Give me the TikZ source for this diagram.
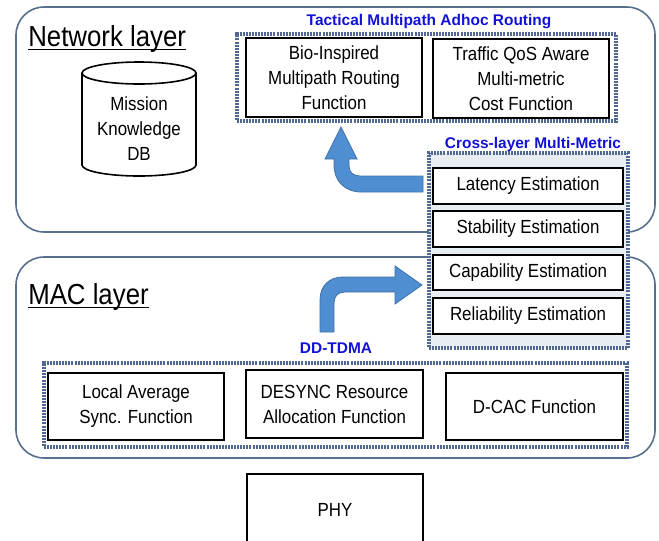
\documentclass[tikz,border=0pt]{standalone}
\usepackage{fontspec}
\setmainfont{Liberation Sans}[FakeStretch=0.89]
\newfontfamily\tagfont{Liberation Sans}
\definecolor{layerc}{RGB}{88,112,140}
\definecolor{framec}{RGB}{80,104,145}
\definecolor{framefill}{RGB}{232,236,243}
\definecolor{tagblue}{RGB}{18,18,215}
\definecolor{arrowc}{RGB}{80,142,210}
\definecolor{arrowedge}{RGB}{64,112,170}
\begin{document}
\begin{tikzpicture}[x=0.75pt,y=-0.75pt,
  layer/.style={draw=layerc,line width=1.2pt,rounded corners=21pt},
  frame/.style={draw=framec,line width=2.5pt,dash pattern=on 1.5pt off 0.8pt,inner sep=0pt},
  box/.style={draw=black,line width=1.5pt,fill=white,align=center,inner sep=0pt,
    font=\fontsize{14.25}{18.75}\selectfont},
  plain/.style={align=center,inner sep=0pt,font=\fontsize{14.25}{18.75}\selectfont},
  title/.style={anchor=base west,inner sep=0pt,font=\fontsize{21.75}{26}\selectfont},
  tag/.style={text=tagblue,inner sep=0pt,font=\tagfont\bfseries\fontsize{11.6}{14}\selectfont},
  blockarrow/.style={fill=arrowc,draw=arrowedge,line width=0.6pt}]
\useasboundingbox (0,0) rectangle (659,540);

% layer outlines
\draw[layer] (16,7) rectangle (655,232);
\draw[layer] (16,257) rectangle (655,458);

% layer titles with underline
\node[title] (nettitle) at (28,46) {Network layer};
\draw[line width=1.2pt] ([yshift=-2.6pt]nettitle.base west) -- ([yshift=-2.6pt]nettitle.base east);
\node[title] (mactitle) at (28,304) {MAC layer};
\draw[line width=1.2pt] ([yshift=-2.6pt]mactitle.base west) -- ([yshift=-2.6pt]mactitle.base east);

% mission knowledge database
\draw[line width=1.2pt,fill=white] (82,73) -- (82,165)
  arc[start angle=180,end angle=0,x radius=57,y radius=11] -- (196,73);
\draw[line width=1.2pt] (139,73) ellipse[x radius=57,y radius=11];
\node[plain] (db) at (139,129) {Mission\\Knowledge\\DB};

% routing group
\node[frame,minimum width=284.25pt,minimum height=65.25pt] (tmar) at (426.5,77.5) {};
\node[tag] (tmartag) at (429,22) {Tactical Multipath Adhoc Routing};
\node[box,minimum width=132pt,minimum height=59.25pt] (bio) at (334,77.5)
  {Bio-Inspired\\Multipath Routing\\Function};
\node[box,minimum width=132pt,minimum height=59.25pt] (qos) at (521,78.5)
  {Traffic QoS Aware\\Multi-metric\\Cost Function};

% cross-layer metric group
\node[frame,fill=framefill,minimum width=149.25pt,minimum height=146.25pt] (cross) at (528.5,250.5) {};
\node[tag] (crosstag) at (533,144) {Cross-layer Multi-Metric};
\node[box,minimum width=142.5pt,minimum height=27pt] (lat) at (528,186) {Latency Estimation};
\node[box,minimum width=142.5pt,minimum height=27pt] (stab) at (528,229) {Stability Estimation};
\node[box,minimum width=142.5pt,minimum height=26.25pt] (cap) at (528,272.5) {Capability Estimation};
\node[box,minimum width=142.5pt,minimum height=27pt] (rel) at (528,316) {Reliability Estimation};

% MAC group
\node[frame,minimum width=437.25pt,minimum height=63pt] (dd) at (335.5,405) {};
\node[tag] (ddtag) at (336,348) {DD-TDMA};
\node[box,minimum width=132pt,minimum height=50.25pt] (sync) at (136,406.5)
  {Local Average\\Sync. Function};
\node[box,minimum width=132.75pt,minimum height=51pt] (desync) at (334.5,404)
  {DESYNC Resource\\Allocation Function};
\node[box,minimum width=132.75pt,minimum height=50.25pt] (dcac) at (534.5,406.5) {D-CAC Function};

% physical layer
\node[box,minimum width=132pt,minimum height=54pt] (phy) at (335,510) {PHY};

% block arrow: metrics up to routing
\draw[blockarrow] (341,127) -- (357,159) -- (349,159) -- (349,166)
  .. controls (349,172) and (353,176) .. (360,176) -- (423,176) -- (423,192) -- (361,192)
  .. controls (345,192) and (334,181) .. (334,165) -- (334,159) -- (325,159) -- cycle;

% block arrow: MAC up to metrics
\draw[blockarrow] (320,332) -- (320,300)
  .. controls (320,285) and (330,277) .. (343,277) -- (395,277) -- (395,266) -- (422,285)
  -- (395,304) -- (395,292) -- (345,292)
  .. controls (338,292) and (334,296) .. (334,303) -- (334,332) -- cycle;
\end{tikzpicture}
\end{document}
